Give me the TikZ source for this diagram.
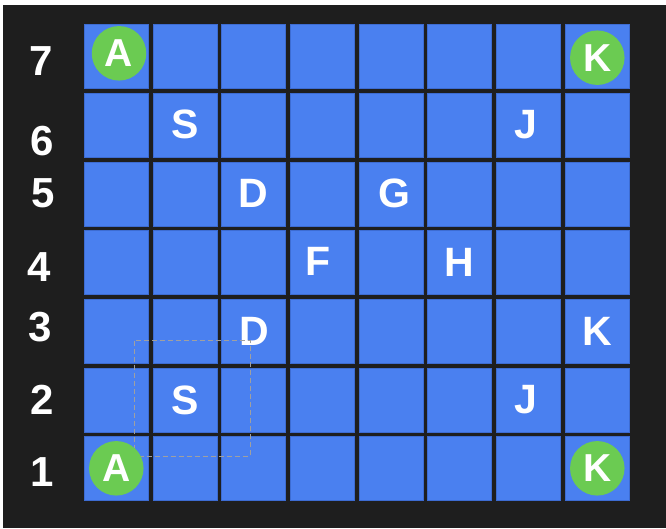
\documentclass[tikz,border=0pt]{standalone}
\usepackage{fontspec}
\setmainfont{Liberation Sans}
\definecolor{bg}{HTML}{1E1E1E}
\definecolor{cellblue}{HTML}{4A80F0}
\definecolor{celledge}{HTML}{3D6CD2}
\definecolor{disc}{HTML}{6BCB52}
\definecolor{dashgray}{HTML}{A0A0A0}
\tikzset{
  cell/.style={draw=celledge, fill=cellblue, line width=0.6pt, minimum size=64pt, inner sep=0pt},
  letter/.style={text=white, inner sep=0pt, font=\fontsize{41}{41}\selectfont\bfseries},
  rowlabel/.style={text=white, inner sep=0pt, font=\fontsize{42}{42}\selectfont\bfseries},
  disc/.style={circle, fill=disc, minimum size=54.5pt, inner sep=0pt, text=white, font=\fontsize{39}{39}\selectfont\bfseries},
  selbox/.style={draw=dashgray, line width=1pt, dash pattern=on 5pt off 3pt}
}
\begin{document}
\begin{tikzpicture}[x=1pt,y=-1pt]
\useasboundingbox (0,0) rectangle (666,528);
\fill[white] (0,0) rectangle (666,528);
\fill[bg] (3,5) rectangle (666,528);
% cells
\foreach \i in {1,...,8}{
  \foreach \r in {1,...,7}{
    \node[cell] (c-\i-\r) at ({116.3+(\i-1)*68.67},{56.5+(7-\r)*68.67}) {};
  }
}
% row labels
\node[rowlabel] (r7) at (41,61) {7};
\node[rowlabel] (r6) at (42,141) {6};
\node[rowlabel] (r5) at (43,193) {5};
\node[rowlabel] (r4) at (39.5,267) {4};
\node[rowlabel] (r3) at (40,327) {3};
\node[rowlabel] (r2) at (42.5,400) {2};
\node[rowlabel] (r1) at (42,472) {1};
% letters
\node[letter] (s6) at ([yshift=1pt]c-2-6) {S};
\node[letter] (j6) at ([xshift=-2.5pt,yshift=1pt]c-7-6) {J};
\node[letter] (d5) at (c-3-5) {D};
\node[letter] (g5) at ([xshift=3pt]c-5-5) {G};
\node[letter] (f4) at ([xshift=-4pt,yshift=1pt]c-4-4) {F};
\node[letter] (h4) at (c-6-4) {H};
\node[letter] (d3) at ([xshift=1pt]c-3-3) {D};
\node[letter] (k3) at (c-8-3) {K};
\node[letter] (s2) at ([yshift=-0.5pt]c-2-2) {S};
\node[letter] (j2) at ([xshift=-2.5pt]c-7-2) {J};
% selection box
\coordinate (sel1) at (134,340.7);
\coordinate (sel2) at (250,456);
\draw[selbox] (sel1) rectangle (sel2);
% discs
\node[disc] (a7) at (119,53.3) {A};
\node[disc] (a1) at (116.3,468.3) {A};
\node[disc] (k7) at (597.3,57.7) {K};
\node[disc] (k1) at (597.3,468.3) {K};
\end{tikzpicture}
\end{document}
